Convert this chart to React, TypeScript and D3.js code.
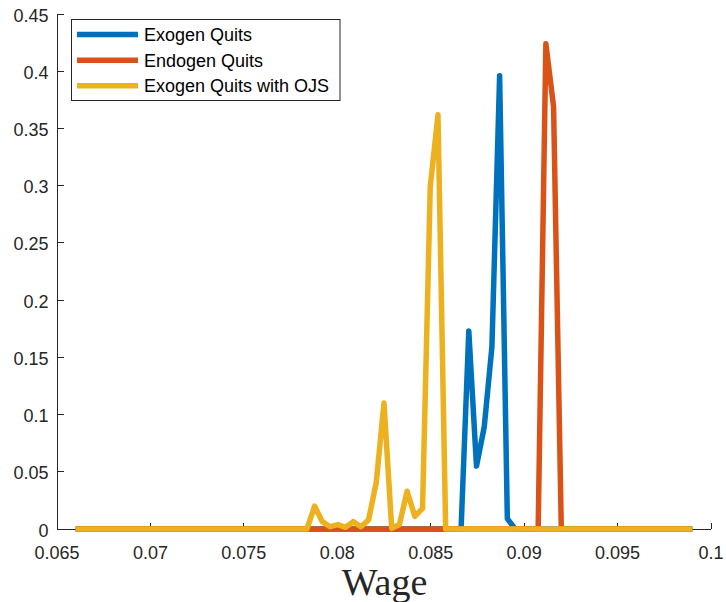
import React from "react";
import * as d3 from "d3";

const xTicks = [0.065, 0.07, 0.075, 0.08, 0.085, 0.09, 0.095, 0.1];
const xTickLabels = ["0.065", "0.07", "0.075", "0.08", "0.085", "0.09", "0.095", "0.1"];
const yTicks = [0, 0.05, 0.1, 0.15, 0.2, 0.25, 0.3, 0.35, 0.4, 0.45];
const yTickLabels = ["0", "0.05", "0.1", "0.15", "0.2", "0.25", "0.3", "0.35", "0.4", "0.45"];

const seriesNames = ["Exogen Quits", "Endogen Quits", "Exogen Quits with OJS"];
const seriesColors = ["#0072BD", "#D95319", "#EDB120"];

const exoWage = [0.066, 0.086625, 0.087038, 0.08745, 0.087863, 0.088275, 0.088688, 0.0891, 0.089513, 0.099];
const exoValue = [0, 0, 0.173, 0.055, 0.089, 0.159, 0.396, 0.009, 0, 0];

const endoWage = [0.066, 0.09075, 0.091163, 0.091575, 0.091988, 0.099];
const endoValue = [0, 0, 0.424, 0.369, 0, 0];

const ojsWage = [
  0.066, 0.078375, 0.0787875, 0.0792, 0.079613, 0.080025, 0.080438, 0.08085, 0.081263,
  0.081675, 0.082088, 0.0825, 0.082913, 0.083325, 0.083738, 0.08415, 0.084563, 0.084975,
  0.085388, 0.0858, 0.099,
];
const ojsValue = [
  0, 0, 0.02, 0.0064, 0.002, 0.0038, 0.0015, 0.0064, 0.002,
  0.008, 0.041, 0.11, 0.0006, 0.004, 0.033, 0.011, 0.018, 0.299,
  0.362, 0, 0,
];

const W = 726;
const H = 602;
const left = 57;
const right = 711;
const top = 14;
const bottom = 529;
const textColor = "#262626";
const fontSans = "'Liberation Sans', Arial, Helvetica, sans-serif";

export default function App() {
  const x = d3.scaleLinear().domain([0.065, 0.1]).range([left, right]);
  const y = d3.scaleLinear().domain([0, 0.45]).range([bottom, top]);
  const line = d3
    .line<[number, number]>()
    .x((d) => x(d[0]))
    .y((d) => y(d[1]));

  const series: [number, number][][] = [
    exoWage.map((w, i) => [w, exoValue[i]]),
    endoWage.map((w, i) => [w, endoValue[i]]),
    ojsWage.map((w, i) => [w, ojsValue[i]]),
  ];

  const tickLen = 6.5;
  const legendRows = [34.5, 60.2, 85.8];

  return (
    <svg
      width={W}
      height={H}
      style={{ position: "absolute", left: 0, top: 0, background: "#fff" }}
      xmlns="http://www.w3.org/2000/svg"
    >
      <rect x={0} y={0} width={W} height={H} fill="#fff" />
      {/* axes */}
      <g stroke={textColor} strokeWidth={1} fill="none" shapeRendering="crispEdges">
        <line x1={left} y1={top} x2={left} y2={bottom} />
        <line x1={left} y1={bottom} x2={right} y2={bottom} />
        {xTicks.map((t, i) => (
          <line key={"xt" + i} x1={x(t)} x2={x(t)} y1={bottom} y2={bottom - tickLen} />
        ))}
        {yTicks.map((t, i) => (
          <line key={"yt" + i} x1={left} x2={left + tickLen} y1={y(t)} y2={y(t)} />
        ))}
      </g>
      {/* tick labels */}
      <g fill={textColor} fontFamily={fontSans} fontSize={18}>
        {xTicks.map((t, i) => (
          <text key={"xl" + i} x={x(t)} y={559} textAnchor="middle">
            {xTickLabels[i]}
          </text>
        ))}
        {yTicks.map((t, i) => (
          <text key={"yl" + i} x={48.5} y={y(t) + 7.5} textAnchor="end">
            {yTickLabels[i]}
          </text>
        ))}
      </g>
      {/* data lines */}
      <g fill="none" strokeWidth={5.5} strokeLinejoin="round" strokeLinecap="butt">
        {series.map((s, i) => (
          <path key={"s" + i} d={line(s) || ""} stroke={seriesColors[i]} />
        ))}
      </g>
      {/* x label */}
      <text
        x={384.5}
        y={595}
        textAnchor="middle"
        fontFamily="'Liberation Serif', 'Times New Roman', serif"
        fontSize={38}
        fill={textColor}
      >
        Wage
      </text>
      {/* legend */}
      <g>
        <rect x={71.5} y={19.5} width={268.5} height={81} fill="#fff" stroke={textColor} strokeWidth={1} />
        {seriesNames.map((n, i) => (
          <g key={"lg" + i}>
            <line
              x1={77}
              x2={138}
              y1={legendRows[i]}
              y2={legendRows[i]}
              stroke={seriesColors[i]}
              strokeWidth={5.5}
            />
            <text
              x={144}
              y={legendRows[i] + 6.5}
              fontFamily={fontSans}
              fontSize={18}
              fill={"#000"}
            >
              {n}
            </text>
          </g>
        ))}
      </g>
    </svg>
  );
}
